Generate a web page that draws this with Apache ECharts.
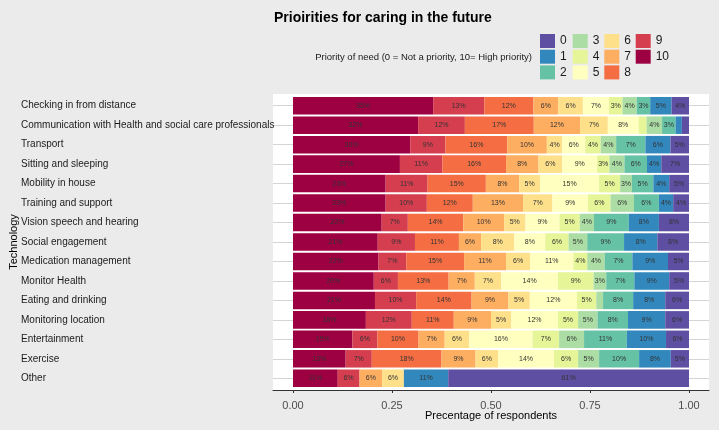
<!DOCTYPE html>
<html>
<head>
<meta charset="utf-8">
<script src="https://cdn.jsdelivr.net/npm/echarts@6/dist/echarts.min.js"></script>
<style>html,body{margin:0;padding:0;background:#ebebeb;}#c{width:719px;height:430px;}</style>
</head>
<body>
<div id="c"></div>
<script>
const categories = ["Checking in from distance","Communication with Health and social care professionals","Transport","Sitting and sleeping","Mobility in house","Training and support","Vision speech and hearing","Social engagement","Medication management","Monitor Health","Eating and drinking","Monitoring location","Entertainment","Exercise","Other"];
const levels = ["10","9","8","7","6","5","4","3","2","1","0"];
const p10 = [35.4,31.6,29.6,27.0,23.4,23.4,22.4,21.4,21.6,20.4,20.7,18.4,15.0,13.3,11.3];
const p9  = [12.9,11.8,8.9,10.7,10.6,10.4,6.6,9.4,7.0,6.1,10.4,11.6,6.3,6.6,5.5];
const p8  = [12.4,17.4,15.6,16.1,14.7,11.6,14.0,11.1,14.6,12.8,14.0,10.6,10.4,17.6,0];
const p7  = [6.3,11.7,10.0,8.2,8.4,12.7,10.3,5.6,10.6,6.6,9.3,9.4,6.6,8.6,5.7];
const p6  = [6.2,7.0,3.9,6.0,5.3,7.4,5.4,8.4,6.1,6.7,5.4,5.1,6.2,5.7,5.5];
const p5  = [6.6,7.8,5.8,8.8,14.9,9.0,8.6,7.8,10.9,14.3,11.9,11.8,16.0,14.1,0];
const p4  = [3.4,2.0,3.9,3.1,5.3,5.7,5.1,5.9,3.5,9.0,4.9,5.1,6.7,6.1,0];
const p3  = [3.6,3.9,3.9,3.8,3.0,5.9,3.6,4.7,4.4,3.2,1.7,4.9,6.3,5.3,0];
const p2  = [3.4,3.4,7.4,5.7,5.4,6.3,8.8,9.3,7.0,7.1,7.6,7.7,10.8,10.1,0];
const p1  = [5.4,1.6,6.3,3.6,4.0,3.6,7.6,8.4,9.0,8.8,8.1,9.4,9.9,8.0,11.2];
const p0  = [4.4,1.8,4.7,7.0,5.0,4.0,7.6,8.0,5.3,5.0,6.0,6.0,5.8,4.6,60.8];
const xTicks = [0,25,50,75,100];

const values = [p10,p9,p8,p7,p6,p5,p4,p3,p2,p1,p0];
const colors = {"0":"#5E4FA2","1":"#3288BD","2":"#66C2A5","3":"#ABDDA4","4":"#E6F598","5":"#FFFFBF","6":"#FEE08B","7":"#FDAE61","8":"#F46D43","9":"#D53E4F","10":"#9E0142"};
const FF = "'Liberation Sans', Arial, sans-serif";

const series = levels.map((lv, i) => ({
  name: lv, type: 'bar', stack: 'all', xAxisIndex: 1, yAxisIndex: 1,
  barCategoryGap: '10%',
  data: values[i],
  itemStyle: { color: colors[lv] },
  label: {
    show: true, position: 'inside', fontSize: 7, color: '#333', fontFamily: FF,
    formatter: p => p.value >= 2.5 ? Math.round(p.value) + '%' : ''
  },
  emphasis: { disabled: true }
}));

const legendCols = [["0","1","2"],["3","4","5"],["6","7","8"],["9","10"]];
const legendLeft = [540, 572.7, 604.3, 635.7];
const legends = legendCols.map((d, i) => ({
  data: d, orient: 'vertical', left: legendLeft[i], top: 34, padding: 0,
  itemWidth: 15, itemHeight: 14, itemGap: 1.7, icon: 'rect', selectedMode: false,
  textStyle: { fontSize: 12, color: '#1a1a1a', fontFamily: FF }
}));

const chart = echarts.init(document.getElementById('c'), null, { renderer: 'canvas' });
chart.setOption({
  backgroundColor: '#ebebeb',
  animation: false,
  title: {
    text: 'Prioirities for caring in the future', left: 274, top: 11, padding: 0,
    textStyle: { fontSize: 14, fontWeight: 'bold', color: '#000', fontFamily: FF }
  },
  legend: legends,
  graphic: [{
    type: 'text', x: 532, y: 57,
    style: { text: 'Priority of need (0 = Not a priority, 10= High priority)', align: 'right', verticalAlign: 'middle', fontSize: 9.5, fill: '#1a1a1a', fontFamily: FF }
  }],
  grid: [
    { left: 273, right: 10, top: 94, bottom: 40, show: true, backgroundColor: '#ffffff', borderWidth: 0, z: -1, outerBoundsMode: 'none', containLabel: false },
    { left: 273, right: 10, top: 96, height: 292, outerBoundsMode: 'none', containLabel: false },
    { left: 273, right: 10, top: 105.7, height: 272.6, outerBoundsMode: 'none', containLabel: false }
  ],
  xAxis: [
    { gridIndex: 0, type: 'value', show: false },
    { gridIndex: 1, type: 'value', min: -5.05, max: 105.05, offset: 2,
      axisLine: { show: true, lineStyle: { color: '#333', width: 1 } },
      axisTick: { show: true, customValues: xTicks, length: 3, lineStyle: { color: '#333' } },
      axisLabel: { customValues: xTicks, fontSize: 11, color: '#4d4d4d', margin: 10, fontFamily: FF, formatter: v => (v / 100).toFixed(2) },
      splitLine: { show: false },
      name: 'Precentage of respondents', nameLocation: 'middle', nameGap: 20, nameMoveOverlap: false,
      nameTextStyle: { fontSize: 11, color: '#000', fontFamily: FF } },
    { gridIndex: 2, type: 'value', show: false }
  ],
  yAxis: [
    { gridIndex: 0, type: 'value', show: false },
    { gridIndex: 1, type: 'category', inverse: true, data: categories,
      axisLine: { show: false }, axisTick: { show: false }, splitLine: { show: false },
      axisLabel: { align: 'left', margin: 252, fontSize: 10, color: '#1a1a1a', fontFamily: FF, padding: [3, 0, 0, 0] },
      name: 'Technology', nameLocation: 'middle', nameGap: 254, nameRotate: 90, nameMoveOverlap: false,
      nameTextStyle: { fontSize: 11, color: '#000', fontFamily: FF } },
    { gridIndex: 2, type: 'category', inverse: true, boundaryGap: false, data: categories,
      axisLine: { show: false }, axisTick: { show: false }, axisLabel: { show: false },
      splitLine: { show: true, lineStyle: { color: '#d4d4d4', width: 1 } } }
  ],
  series: series
});
</script>
</body>
</html>
